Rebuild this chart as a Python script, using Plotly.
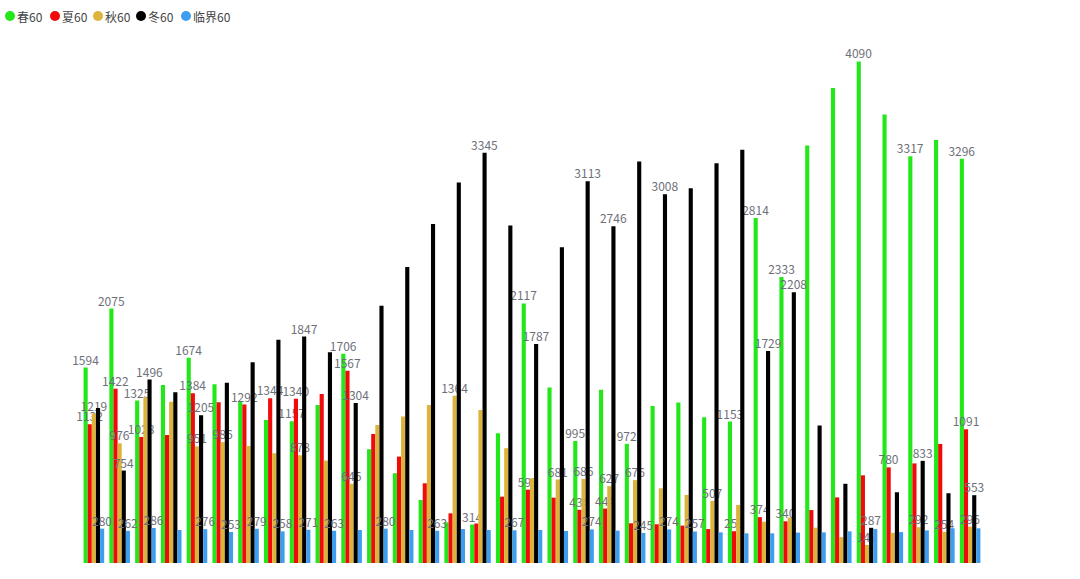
import plotly.graph_objects as go

categories = [str(i) for i in range(1, 36)]

spring = [1594, 2075, 1325, 1452, 1674, 1458, 1316, 1167, 1157, 1289, 1706, 928, 732, 514, 332, 314, 1058, 2117,
          1431, 995, 1412, 972, 1281, 1308, 1189, 1153, 2814, 2333, 3405, 3874, 4090, 3657, 3317, 3450, 3296]
summer = [1132, 1422, 1028, 1044, 1384, 1311, 1292, 1344, 1340, 1379, 1567, 1053, 868, 650, 405, 322, 541, 598,
          533, 434, 444, 324, 316, 305, 277, 259, 374, 340, 432, 535, 715, 780, 812, 971, 1091]
autumn = [1219, 976, 1352, 1316, 951, 986, 955, 895, 878, 835, 646, 1126, 1194, 1289, 1364, 1248, 936, 691,
          681, 686, 627, 676, 609, 555, 507, 473, 337, 370, 288, 211, 147, 246, 292, 254, 296]
winter = [1265, 754, 1496, 1393, 1205, 1471, 1638, 1820, 1847, 1719, 1304, 2097, 2413, 2764, 3103, 3345, 2753, 1787,
          2576, 3113, 2746, 3275, 3008, 3057, 3261, 3371, 1729, 2208, 1121, 646, 287, 577, 833, 569, 553]
critical = [280, 262, 286, 269, 276, 253, 279, 258, 271, 263, 269, 280, 269, 263, 277, 269, 267, 269,
            261, 274, 264, 245, 274, 257, 250, 242, 242, 248, 250, 258, 277, 252, 266, 283, 283]

# groups (1-based) whose value label is visible in the reference
spring_labels = [1, 2, 3, 5, 9, 11, 16, 18, 20, 22, 26, 27, 28, 31, 33, 35]
summer_labels = [1, 2, 3, 5, 7, 8, 9, 11, 18, 20, 21, 26, 27, 28, 32, 35]
autumn_labels = [1, 2, 5, 6, 9, 11, 15, 19, 20, 21, 22, 25, 31, 33, 34, 35]
winter_labels = [2, 3, 5, 9, 11, 16, 18, 20, 21, 23, 27, 28, 31, 33, 35]
critical_labels = [1, 2, 3, 5, 6, 7, 8, 9, 10, 12, 14, 17, 20, 22, 23, 24]

series_names = ["春60", "夏60", "秋60", "冬60", "临界60"]
series_values = [spring, summer, autumn, winter, critical]
series_label_groups = [spring_labels, summer_labels, autumn_labels, winter_labels, critical_labels]
series_colors = ["#22e81a", "#f00a0a", "#dcb33b", "#000000", "#3d9ef0"]

ML, MR, MT, MB, W, H = 81, 97, 48, 16, 1080, 579
PW, PH = W - ML - MR, H - MT - MB

fig = go.Figure()
for name, vals, lab, color in zip(series_names, series_values, series_label_groups, series_colors):
    texts = [str(v) if (i + 1) in lab else "" for i, v in enumerate(vals)]
    fig.add_trace(go.Bar(
        x=categories, y=vals, name=name, marker_color=color, marker_line_width=0,
        text=texts, textposition="outside", constraintext="none", cliponaxis=False,
        textfont=dict(size=12, color="#6e7079", family="Noto Sans CJK SC, sans-serif"),
        showlegend=False, hoverinfo="x+y+name",
    ))

# legend drawn as circles + text in the top-left corner (ECharts-style)
legend_x = [10, 55, 98, 141, 186]
legend_y = 16
for lx, name, color in zip(legend_x, series_names, series_colors):
    fig.add_shape(type="circle", xref="paper", yref="paper", xsizemode="pixel", ysizemode="pixel",
                  xanchor=(lx - ML) / PW, yanchor=1 + (MT - legend_y) / PH,
                  x0=-5, x1=5, y0=-5, y1=5, fillcolor=color, line_width=0)
    fig.add_annotation(xref="paper", yref="paper", x=(lx + 5 - ML) / PW, y=1 + (MT - legend_y) / PH,
                       text=name, showarrow=False, xanchor="left", yanchor="middle",
                       font=dict(size=12, color="#444", family="Noto Sans CJK SC, sans-serif"))

fig.update_layout(
    width=W, height=H,
    margin=dict(l=ML, r=MR, t=MT, b=MB),
    paper_bgcolor="white", plot_bgcolor="white",
    barmode="group", bargap=0.2, bargroupgap=0,
    showlegend=False,
    font=dict(family="Noto Sans CJK SC, sans-serif", color="#555"),
    xaxis=dict(type="category", showticklabels=False, showgrid=False, zeroline=False,
               showline=False, ticks=""),
    yaxis=dict(range=[0, 4200], showticklabels=False, showgrid=False, zeroline=False,
               showline=False, ticks=""),
)

fig.write_html("out.html", config={"displayModeBar": False},
               post_script="document.body.style.margin='0';")
